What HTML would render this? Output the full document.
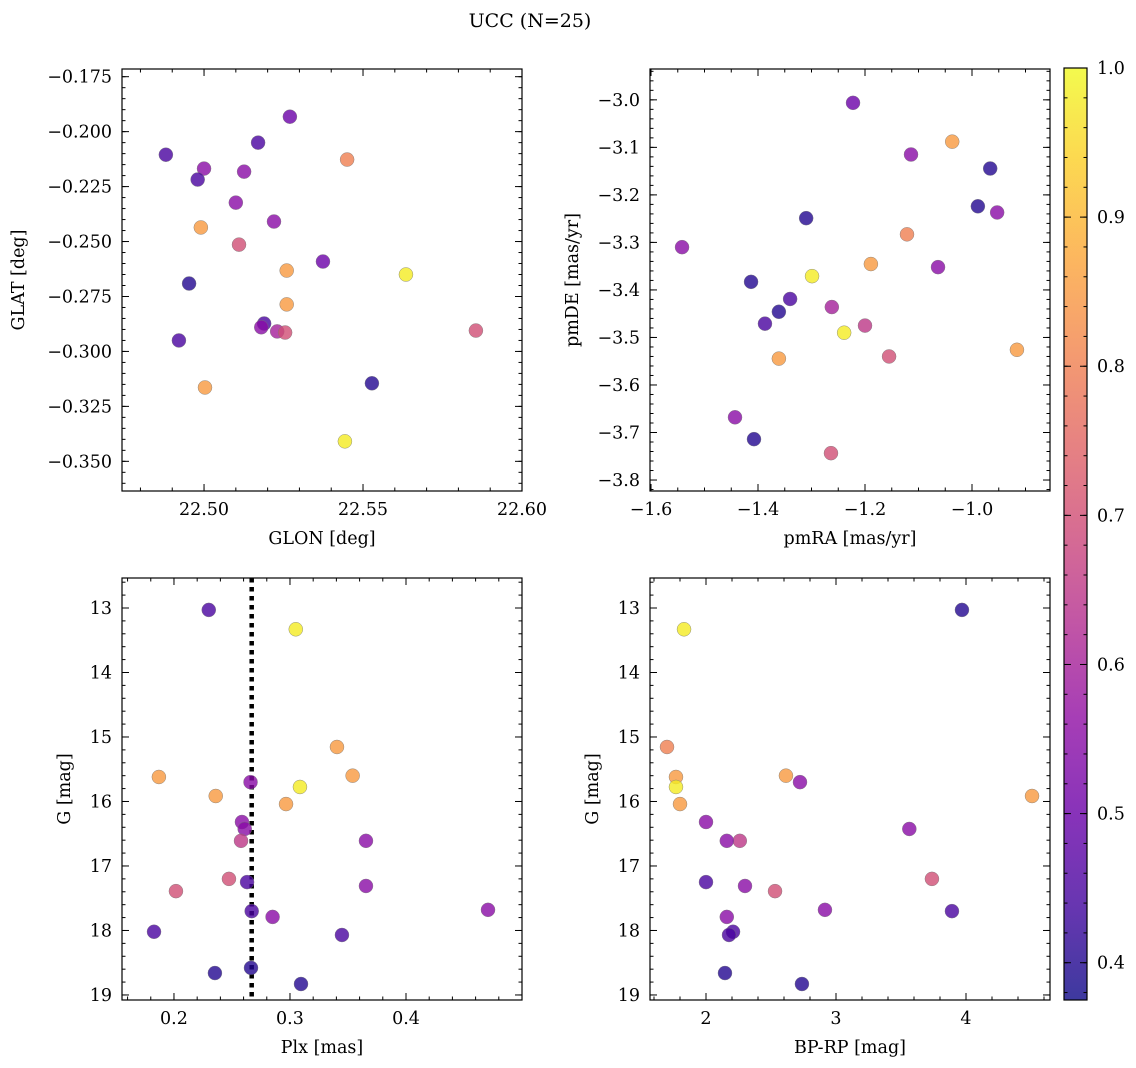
<!DOCTYPE html>
<html><head><meta charset="utf-8">
<style>
html,body{margin:0;padding:0;background:#fff;}
svg{display:block;font-family:"DejaVu Serif","Liberation Serif",serif;}
</style></head>
<body>
<svg id="fig" width="1136" height="1068" viewBox="0 0 1136 1068" xmlns="http://www.w3.org/2000/svg">
<text x="530" y="27" font-size="19" text-anchor="middle">UCC (N=25)</text>
</svg>
<script>
// ---- Data ----
const p1Glon=[22.488,22.527,22.517,22.500,22.498,22.5126,22.545,22.510,22.499,22.511,22.522,22.5374,22.4953,22.526,22.5635,22.526,22.5189,22.518,22.523,22.5255,22.5855,22.4921,22.5003,22.5528,22.5443];
const p1Glat=[-0.2105,-0.1932,-0.205,-0.2168,-0.2218,-0.2182,-0.2127,-0.2323,-0.2436,-0.2514,-0.2409,-0.2591,-0.2691,-0.2632,-0.265,-0.2786,-0.2873,-0.289,-0.2909,-0.2914,-0.2905,-0.295,-0.3164,-0.3145,-0.3409];
const p1Prob=[0.45,0.5,0.45,0.55,0.45,0.55,0.8,0.55,0.85,0.7,0.55,0.5,0.4,0.85,0.98,0.85,0.45,0.55,0.6,0.7,0.7,0.45,0.85,0.4,0.98];

const p2PmRA=[-1.2224,-1.114,-1.037,-0.966,-0.989,-0.953,-1.310,-1.542,-1.1215,-1.189,-1.0635,-1.299,-1.413,-1.340,-1.361,-1.387,-1.262,-1.2,-1.239,-1.361,-1.155,-0.916,-1.443,-1.4075,-1.2636];
const p2PmDE=[-3.0063,-3.115,-3.088,-3.1445,-3.224,-3.237,-3.249,-3.310,-3.283,-3.3455,-3.352,-3.371,-3.383,-3.419,-3.446,-3.471,-3.436,-3.475,-3.490,-3.5445,-3.540,-3.526,-3.668,-3.714,-3.7435];
const p2Prob=[0.5,0.55,0.85,0.4,0.4,0.55,0.4,0.55,0.8,0.85,0.55,0.98,0.4,0.45,0.4,0.45,0.6,0.65,0.98,0.85,0.7,0.85,0.55,0.4,0.7];

const p3Plx=[0.230,0.305,0.3405,0.187,0.354,0.266,0.3086,0.236,0.2966,0.2586,0.261,0.2578,0.3655,0.2474,0.263,0.2017,0.3655,0.267,0.285,0.4707,0.1828,0.3448,0.2353,0.2664,0.3095];
const p3G=[13.03,13.33,15.155,15.62,15.60,15.70,15.775,15.915,16.04,16.318,16.426,16.61,16.61,17.20,17.25,17.39,17.31,17.70,17.79,17.68,18.02,18.07,18.66,18.58,18.83];
const p3Prob=[0.45,0.98,0.85,0.85,0.85,0.55,0.98,0.85,0.85,0.55,0.55,0.65,0.55,0.7,0.45,0.7,0.55,0.45,0.55,0.55,0.45,0.45,0.4,0.4,0.4];
const plxMean=0.267;

const p4BpRp=[3.969,1.831,1.70,1.769,2.615,2.723,1.769,4.508,1.8,2.0,3.564,2.26,2.16,3.738,2.0,2.531,2.3,3.892,2.16,2.915,2.208,2.177,2.146,2.738];
const p4G=[13.03,13.33,15.155,15.62,15.60,15.70,15.775,15.915,16.04,16.318,16.426,16.61,16.61,17.20,17.25,17.39,17.31,17.70,17.79,17.68,18.02,18.07,18.66,18.83];
const p4Prob=[0.4,0.98,0.8,0.85,0.85,0.55,0.98,0.85,0.85,0.55,0.55,0.65,0.55,0.7,0.45,0.7,0.55,0.45,0.55,0.55,0.45,0.45,0.4,0.4];

const cbTicks=[0.4,0.5,0.6,0.7,0.8,0.9,1.0];

// ---- Helpers ----
const NS="http://www.w3.org/2000/svg";
const svg=document.getElementById('fig');
function mk(tag,attrs,parent){const e=document.createElementNS(NS,tag);for(const k in attrs)e.setAttribute(k,attrs[k]);(parent||svg).appendChild(e);return e;}
const stops=[[0,[13,8,135]],[0.1,[65,4,157]],[0.2,[106,0,168]],[0.3,[143,13,164]],[0.4,[177,42,144]],[0.5,[204,71,120]],[0.6,[225,100,98]],[0.7,[242,132,75]],[0.8,[252,166,54]],[0.9,[252,206,37]],[1,[240,249,33]]];
function plasma(t){t=Math.max(0,Math.min(1,t));for(let i=1;i<stops.length;i++){if(t<=stops[i][0]){const a=stops[i-1],b=stops[i];const f=(t-a[0])/(b[0]-a[0]);const c=a[1].map((v,j)=>Math.round(v+(b[1][j]-v)*f));return `rgb(${c[0]},${c[1]},${c[2]})`;}}return 'rgb(240,249,33)';}
const VMIN=0.375,VMAX=1.0;
function cmap(v){return plasma((v-VMIN)/(VMAX-VMIN));}
function lin(d0,d1,r0,r1){return v=>r0+(v-d0)/(d1-d0)*(r1-r0);}
function range(a,b,s){const r=[];const n=Math.round((b-a)/s);for(let i=0;i<=n;i++)r.push(+(a+i*s).toFixed(6));return r;}
const FS=17.5;

function panel(o){
  const g=mk('g',{});
  
  
  const L=o.box[0],T=o.box[1],R=o.box[2],B=o.box[3];
  const sx=lin(o.xd[0],o.xd[1],L,R), sy=lin(o.yd[0],o.yd[1],o.yInv?T:B,o.yInv?B:T);
  const tg=mk('g',{stroke:'#000','stroke-width':1},g);
  o.xMinor.forEach(v=>{const x=sx(v);if(x<L-0.5||x>R+0.5)return;mk('line',{x1:x,x2:x,y1:B,y2:B-3.5},tg);mk('line',{x1:x,x2:x,y1:T,y2:T+3.5},tg);});
  o.yMinor.forEach(v=>{const y=sy(v);if(y<T-0.5||y>B+0.5)return;mk('line',{x1:L,x2:L+3.5,y1:y,y2:y},tg);mk('line',{x1:R,x2:R-3.5,y1:y,y2:y},tg);});
  o.xMajor.forEach((v,i)=>{const x=sx(v);mk('line',{x1:x,x2:x,y1:B,y2:B-7},tg);mk('line',{x1:x,x2:x,y1:T,y2:T+7},tg);
    const t=mk('text',{x:x,y:B+24,'font-size':FS,'text-anchor':'middle'},g);t.textContent=o.xLab[i];
    });
  o.yMajor.forEach((v,i)=>{const y=sy(v);mk('line',{x1:L,x2:L+7,y1:y,y2:y},tg);mk('line',{x1:R,x2:R-7,y1:y,y2:y},tg);
    const t=mk('text',{x:L-10,y:y+6,'font-size':FS,'text-anchor':'end'},g);t.textContent=o.yLab[i];
    });
  if(o.vline!==undefined){const vl=mk('line',{x1:sx(o.vline),x2:sx(o.vline),y1:T,y2:B,stroke:'#000','stroke-width':4.5,'stroke-dasharray':'4.5,4.5'},g);
    }
  const pg=mk('g',{},g);
  
  o.xs.forEach((xv,i)=>{const c=mk('circle',{cx:sx(xv),cy:sy(o.ys[i]),r:7,fill:cmap(o.cs[i]),'fill-opacity':0.8,stroke:'#777','stroke-width':0.4},pg);
    });
  mk('rect',{x:L,y:T,width:R-L,height:B-T,fill:'none',stroke:'#000','stroke-width':1.2},g);
  const xl=mk('text',{x:(L+R)/2,y:B+53,'font-size':FS,'text-anchor':'middle'},g);xl.textContent=o.xTitle;
  
  const yx=o.yTitleX,yy=(T+B)/2;
  const yl=mk('text',{x:yx,y:yy,'font-size':FS,'text-anchor':'middle',transform:`rotate(-90 ${yx} ${yy})`},g);yl.textContent=o.yTitle;
  
}

panel({name:'glon-glat-panel',box:[122,69,522,491],xd:[22.4742,22.6],yd:[-0.3635,-0.1715],
  xs:p1Glon,ys:p1Glat,cs:p1Prob,
  xMajor:[22.5,22.55,22.6],xLab:['22.50','22.55','22.60'],xMinor:range(22.47,22.6,0.01),
  yMajor:range(-0.35,-0.175,0.025),yLab:['−0.350','−0.325','−0.300','−0.275','−0.250','−0.225','−0.200','−0.175'],yMinor:range(-0.365,-0.17,0.005),
  xTitle:'GLON [deg]',yTitle:'GLAT [deg]',yTitleX:24});
panel({name:'proper-motion-panel',box:[650,69,1050,491],xd:[-1.6019,-0.8542],yd:[-3.8231,-2.9351],
  xs:p2PmRA,ys:p2PmDE,cs:p2Prob,
  xMajor:[-1.6,-1.4,-1.2,-1.0],xLab:['−1.6','−1.4','−1.2','−1.0'],xMinor:range(-1.6,-0.85,0.05),
  yMajor:range(-3.8,-3.0,0.1),yLab:['−3.8','−3.7','−3.6','−3.5','−3.4','−3.3','−3.2','−3.1','−3.0'],yMinor:range(-3.82,-2.94,0.02),
  xTitle:'pmRA [mas/yr]',yTitle:'pmDE [mas/yr]',yTitleX:578});
panel({name:'plx-g-panel',box:[122,578,522,1000],xd:[0.1552,0.5],yd:[12.535,19.078],yInv:true,
  xs:p3Plx,ys:p3G,cs:p3Prob,vline:plxMean,
  xMajor:[0.2,0.3,0.4],xLab:['0.2','0.3','0.4'],xMinor:range(0.16,0.5,0.02),
  yMajor:range(13,19,1),yLab:['13','14','15','16','17','18','19'],yMinor:range(12.6,19,0.2),
  xTitle:'Plx [mas]',yTitle:'G [mag]',yTitleX:70});
panel({name:'cmd-panel',box:[650,578,1050,1000],xd:[1.5692,4.6462],yd:[12.535,19.078],yInv:true,
  xs:p4BpRp,ys:p4G,cs:p4Prob,
  xMajor:[2,3,4],xLab:['2','3','4'],xMinor:range(1.6,4.6,0.2),
  yMajor:range(13,19,1),yLab:['13','14','15','16','17','18','19'],yMinor:range(12.6,19,0.2),
  xTitle:'BP-RP [mag]',yTitle:'G [mag]',yTitleX:598});

(function(){
  const L=1064,R=1087,T=68,B=1000;
  const g=mk('g',{});
  const defs=mk('defs',{},g);
  const gr=mk('linearGradient',{id:'cbg',x1:0,y1:1,x2:0,y2:0},defs);
  for(let i=0;i<=20;i++){mk('stop',{offset:i/20,'stop-color':plasma(i/20),'stop-opacity':0.8},gr);}
  mk('rect',{x:L,y:T,width:R-L,height:B-T,fill:'url(#cbg)'},g);
  const sy=lin(VMIN,VMAX,B,T);
  range(0.38,1.0,0.02).forEach(v=>{const y=sy(v);mk('line',{x1:R,x2:R-3.5,y1:y,y2:y,stroke:'#000'},g);mk('line',{x1:L,x2:L+3.5,y1:y,y2:y,stroke:'#000'},g);});
  cbTicks.forEach(v=>{const y=sy(v);mk('line',{x1:R,x2:R-7,y1:y,y2:y,stroke:'#000'},g);mk('line',{x1:L,x2:L+7,y1:y,y2:y,stroke:'#000'},g);
    const t=mk('text',{x:R+10,y:y+6,'font-size':FS},g);t.textContent=v.toFixed(1);
    });
  mk('rect',{x:L,y:T,width:R-L,height:B-T,fill:'none',stroke:'#000','stroke-width':1.2},g);
})();
</script>
</body></html>
